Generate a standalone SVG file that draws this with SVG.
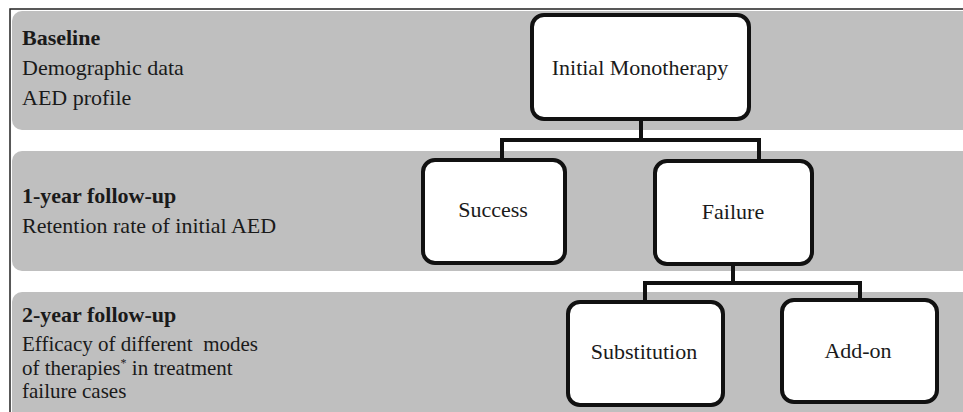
<svg xmlns="http://www.w3.org/2000/svg" width="963" height="412" viewBox="0 0 963 412">
<style>
.band{fill:#bfbfbf}
.node{fill:#ffffff;stroke:#111111;stroke-width:4}
.t{font-family:"Liberation Serif","Times New Roman",serif;font-size:22px;fill:#1a1a1a}
.s{font-size:21px}
.b{font-weight:bold}
.c{text-anchor:middle}
.con{fill:none;stroke:#111111;stroke-width:4}
</style>
<rect x="0" y="0" width="963" height="412" fill="#ffffff"/>
<g id="frame">
<path d="M10 412 V9 H963" fill="none" stroke="#222222" stroke-width="1.5"/>
</g>
<g id="bands">
<rect class="band" x="12" y="11" width="970" height="119" rx="10"/>
<rect class="band" x="12" y="151" width="970" height="120" rx="10"/>
<rect class="band" x="12" y="292" width="970" height="140" rx="10"/>
</g>
<g id="labels">
<text class="t b" x="22" y="45">Baseline</text>
<text class="t" x="22" y="75">Demographic data</text>
<text class="t" x="22" y="105">AED profile</text>
<text class="t b" x="22" y="203">1-year follow-up</text>
<text class="t" x="22" y="233">Retention rate of initial AED</text>
<text class="t b" x="22" y="322">2-year follow-up</text>
<text class="t s" x="22" y="351" xml:space="preserve">Efficacy of different  modes</text>
<text class="t s" x="22" y="375">of therapies<tspan font-size="12" dy="-8">*</tspan><tspan dy="8"> in treatment</tspan></text>
<text class="t s" x="22" y="398">failure cases</text>
</g>
<g id="connectors">
<path class="con" d="M641 119 V140 M502 140 H759 M502 138 V160 M759 138 V160"/>
<path class="con" d="M733 264 V283 M645 283 H860 M645 281 V302 M860 281 V300"/>
</g>
<g id="initial">
<rect class="node" x="532" y="15" width="217" height="104" rx="12"/>
<text class="t c" x="640" y="75">Initial Monotherapy</text>
</g>
<g id="success">
<rect class="node" x="423" y="160" width="142" height="103" rx="12"/>
<text class="t c" x="493" y="217">Success</text>
</g>
<g id="failure">
<rect class="node" x="655" y="161" width="157" height="103" rx="12"/>
<text class="t c" x="733" y="219">Failure</text>
</g>
<g id="substitution">
<rect class="node" x="568" y="302" width="155" height="103" rx="12"/>
<text class="t c" x="644" y="359">Substitution</text>
</g>
<g id="addon">
<rect class="node" x="782" y="300" width="155" height="102" rx="12"/>
<text class="t c" x="858" y="358">Add-on</text>
</g>
</svg>
